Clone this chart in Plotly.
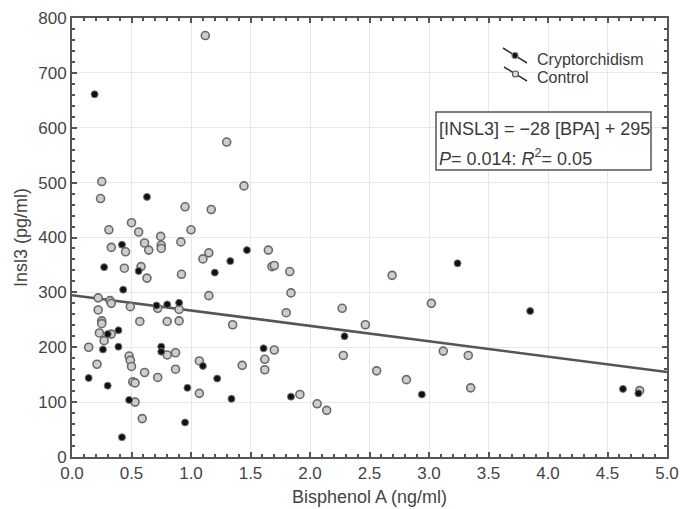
import plotly.graph_objects as go

# Cryptorchidism (filled)
crypt_x = [0.19, 0.14, 0.27, 0.30, 0.26, 0.30, 0.39, 0.39, 0.42, 0.43, 0.42, 0.48, 0.56, 0.63,
           0.71, 0.75, 0.75, 0.80, 0.90, 0.97, 0.95, 1.10, 1.20, 1.22, 1.33, 1.34, 1.47, 1.61,
           1.84, 2.29, 2.94, 3.24, 3.85, 4.63, 4.76]
crypt_y = [661, 144, 346, 224, 196, 130, 231, 201, 387, 305, 36, 104, 339, 474,
           276, 201, 192, 278, 281, 126, 63, 166, 336, 143, 357, 106, 377, 198,
           110, 220, 114, 353, 266, 124, 116]

# Control (open)
ctrl_x = [0.14, 0.21, 0.22, 0.22, 0.25, 0.24, 0.25, 0.25, 0.23, 0.27, 0.31, 0.32, 0.33, 0.33,
          0.33, 0.45, 0.44, 0.49, 0.48, 0.49, 0.50, 0.50, 0.51, 0.53, 0.53, 0.56, 0.58, 0.57,
          0.59, 0.61, 0.61, 0.63, 0.645, 0.72, 0.72, 0.745, 0.75, 0.75, 0.80, 0.80, 0.87, 0.87,
          0.90, 0.90, 0.915, 0.92, 0.95, 1.00, 1.07, 1.07, 1.10, 1.12, 1.15, 1.15, 1.17, 1.30,
          1.35, 1.43, 1.445, 1.62, 1.62, 1.65, 1.68, 1.70, 1.70, 1.80, 1.83, 1.84, 1.915, 2.06,
          2.14, 2.27, 2.28, 2.465, 2.56, 2.69, 2.81, 3.02, 3.12, 3.33, 3.35, 4.77]
ctrl_y = [200, 169, 290, 268, 502, 471, 248, 243, 226, 212, 414, 285, 382, 280,
          224, 374, 344, 274, 184, 176, 165, 427, 137, 135, 100, 410, 347, 247,
          70, 154, 390, 326, 377, 271, 145, 402, 386, 380, 247, 186, 190, 160,
          248, 269, 392, 333, 456, 414, 116, 175, 361, 768, 372, 294, 451, 574,
          241, 167, 494, 178, 159, 377, 347, 349, 195, 263, 338, 299, 114, 97,
          85, 271, 185, 241, 157, 331, 141, 280, 193, 185, 126, 121]

# Regression
slope = -28
intercept = 295
fit_x = [0.0, 5.0]
fit_y = [intercept + slope * v for v in fit_x]

x_ticks = [0.0, 0.5, 1.0, 1.5, 2.0, 2.5, 3.0, 3.5, 4.0, 4.5, 5.0]
y_ticks = [0, 100, 200, 300, 400, 500, 600, 700, 800]

series_names = ["Cryptorchidism", "Control"]
eq_line1 = "[INSL3] = \u221228 [BPA] + 295"
eq_line2 = "<i>P</i>= 0.014: <i>R</i><sup>2</sup>= 0.05"

FONT = "Liberation Sans, Arial, sans-serif"
AX = "#555555"
TXT = "#3a3a3a"

# plot-area pixel geometry helpers (for decorations only)
L, R, T, B = 72, 667, 18, 457
def px(xp):
    return (xp - L) / (R - L)
def py(yp):
    return 1 - (yp - T) / (B - T)

fig = go.Figure()

fig.add_trace(go.Scatter(x=fit_x, y=fit_y, mode="lines",
                         line=dict(color="#555555", width=2.5),
                         showlegend=False, hoverinfo="skip"))

fig.add_trace(go.Scatter(x=ctrl_x, y=ctrl_y, mode="markers", name=series_names[1],
                         marker=dict(symbol="circle", size=8, color="#cdcdcd",
                                     line=dict(color="#6a6a6a", width=1.6)),
                         showlegend=False))
fig.add_trace(go.Scatter(x=crypt_x, y=crypt_y, mode="markers", name=series_names[0],
                         marker=dict(symbol="circle", size=7, color="#111111",
                                     line=dict(color="#777777", width=1)),
                         showlegend=False))

fig.update_layout(
    width=683, height=509,
    margin=dict(l=L, r=683 - R, t=T, b=509 - B),
    paper_bgcolor="white", plot_bgcolor="white",
    font=dict(family=FONT, color=TXT),
    showlegend=False,
    xaxis=dict(range=[0, 5], tickvals=x_ticks, tickformat=".1f", automargin=False,
               showline=True, linecolor=AX, linewidth=2, mirror="ticks",
               ticks="inside", ticklen=5, tickcolor=AX, tickwidth=1.5,
               minor=dict(dtick=0.1, ticks="inside", ticklen=3, tickcolor=AX, showgrid=False),
               showgrid=True, gridcolor="#e8e8e8", gridwidth=1, zeroline=False,
               tickfont=dict(size=17, color="#444444"),
               title=dict(text="Bisphenol A (ng/ml)", font=dict(size=18, color="#444444"), standoff=8)),
    yaxis=dict(range=[0, 800], tickvals=y_ticks, automargin=False,
               showline=True, linecolor=AX, linewidth=2, mirror="ticks",
               ticks="inside", ticklen=5, tickcolor=AX, tickwidth=1.5,
               minor=dict(dtick=20, ticks="inside", ticklen=3, tickcolor=AX, showgrid=False),
               showgrid=True, gridcolor="#e8e8e8", gridwidth=1, zeroline=False,
               tickfont=dict(size=17, color="#444444"),
               title=dict(text="Insl3 (pg/ml)", font=dict(size=18, color="#444444"), standoff=6)),
)

# custom legend (diagonal line with marker)
leg = [((503, 48), (527, 63), 59, "#111111", "#777777"),
       ((504, 67), (527, 81), 78, "#dddddd", "#555555")]
for (p0, p1, ty, fc, lc), name in zip(leg, series_names):
    fig.add_shape(type="line", xref="paper", yref="paper",
                  x0=px(p0[0]), y0=py(p0[1]), x1=px(p1[0]), y1=py(p1[1]),
                  line=dict(color="#333333", width=1.5))
    mx, my = (p0[0] + p1[0]) / 2, (p0[1] + p1[1]) / 2
    fig.add_shape(type="circle", xref="paper", yref="paper",
                  xsizemode="pixel", ysizemode="pixel",
                  xanchor=px(mx), yanchor=py(my), x0=-3, x1=3, y0=-3, y1=3,
                  fillcolor=fc, line=dict(color=lc, width=1.2))
    fig.add_annotation(xref="paper", yref="paper", x=px(535), y=py(ty),
                       xanchor="left", yanchor="middle", text=name, showarrow=False,
                       font=dict(size=16, color=TXT, family=FONT))

# equation box
fig.add_shape(type="rect", xref="paper", yref="paper",
              x0=px(436), x1=px(651), y0=py(170), y1=py(112),
              line=dict(color="#555555", width=1.5), fillcolor="white", layer="above")
fig.add_annotation(xref="paper", yref="paper", x=px(437), y=py(129),
                   xanchor="left", yanchor="middle", text=eq_line1, showarrow=False,
                   font=dict(size=18, color=TXT, family=FONT))
fig.add_annotation(xref="paper", yref="paper", x=px(437), y=py(157),
                   xanchor="left", yanchor="middle", text=eq_line2, showarrow=False,
                   font=dict(size=18, color=TXT, family=FONT))

fig.write_html("out.html", config={"displayModeBar": False},
               post_script="document.body.style.margin='0';document.body.style.padding='0';")
